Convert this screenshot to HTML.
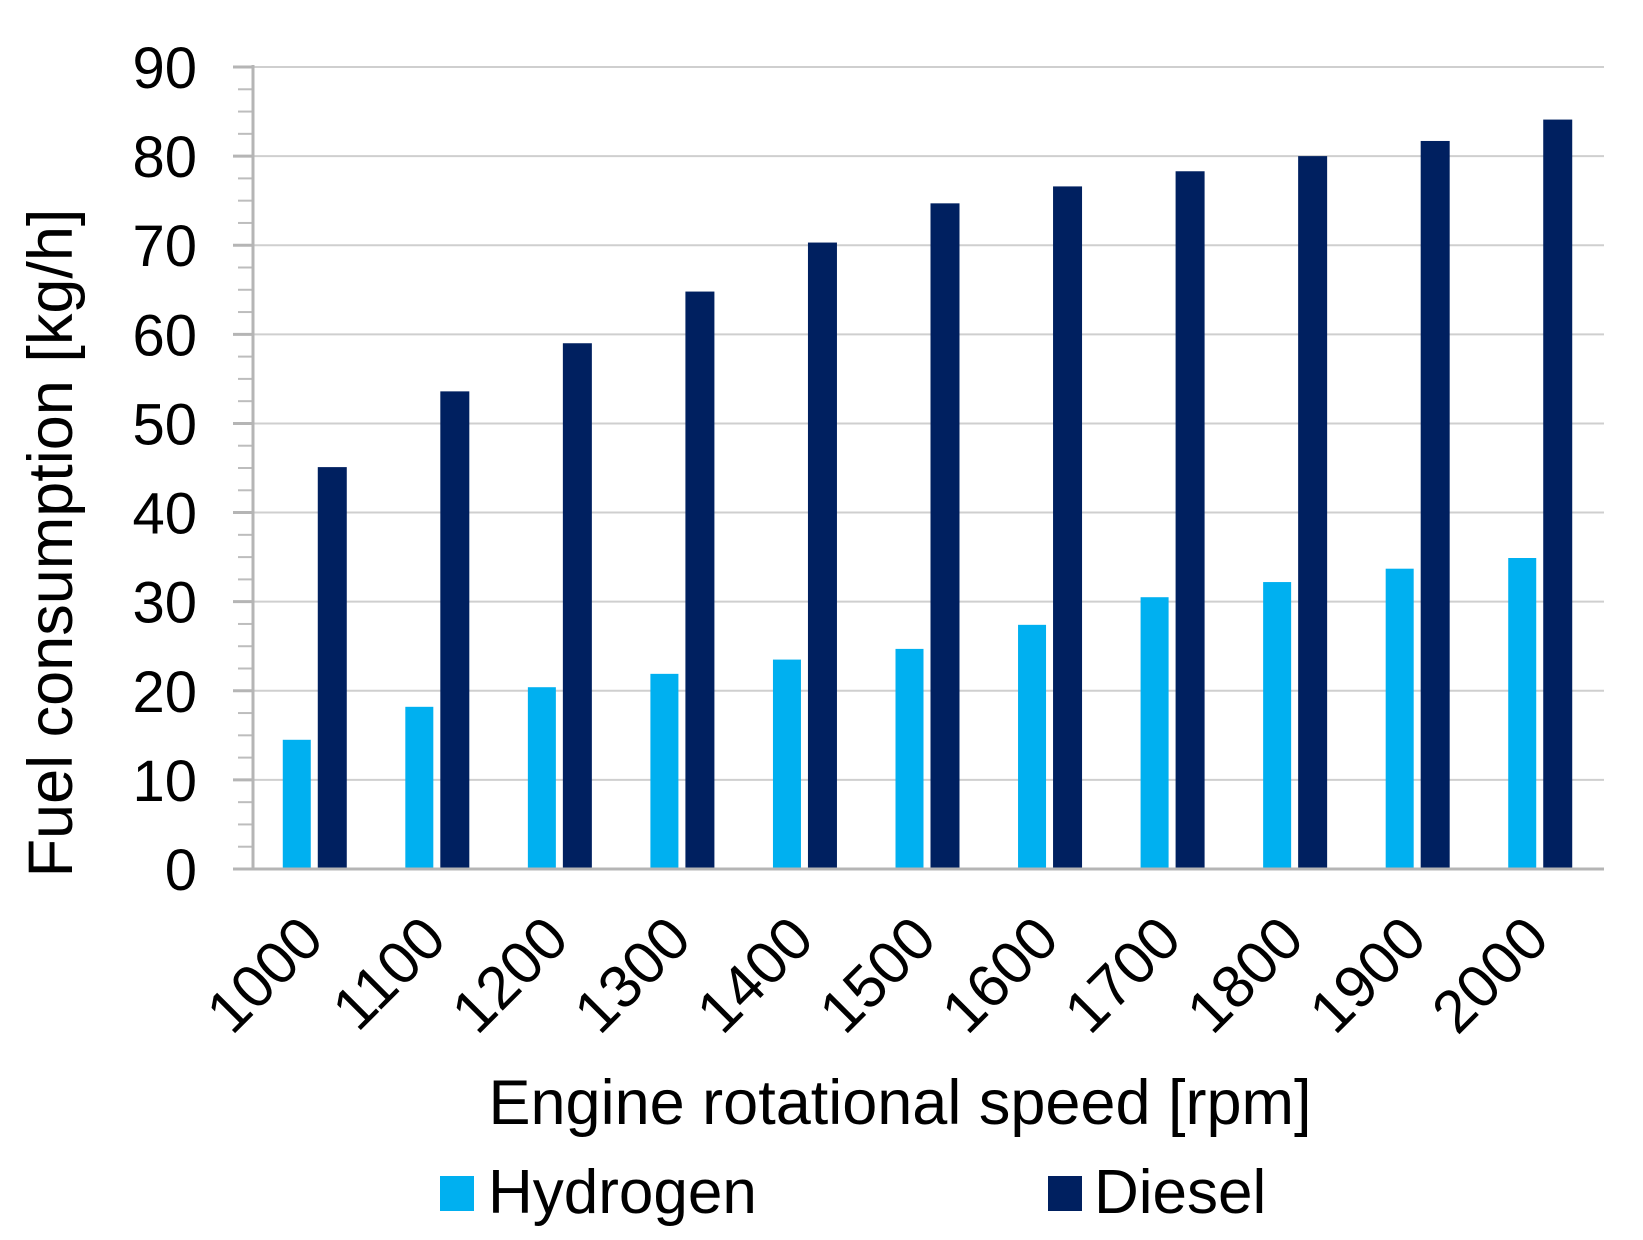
<!DOCTYPE html>
<html><head><meta charset="utf-8"><style>
html,body{margin:0;padding:0;background:#fff;}
svg{display:block;font-family:"Liberation Sans",Arial,sans-serif;}
</style></head><body>
<svg id="chart" width="1643" height="1240" viewBox="0 0 1643 1240">
<g id="grid"></g>
<g id="yaxis"></g>
<g id="bars"></g>
<g id="xaxis"></g>
<text transform="translate(72,543) rotate(-90)" text-anchor="middle" font-size="63" fill="#000">Fuel consumption [kg/h]</text>
<text x="900" y="1124" text-anchor="middle" font-size="63" fill="#000">Engine rotational speed [rpm]</text>
<g>
<rect x="440" y="1176" width="34" height="35" fill="#00b0f0"/>
<text x="488" y="1213" font-size="62" fill="#000">Hydrogen</text>
<rect x="1048" y="1176" width="34" height="35" fill="#002060"/>
<text x="1094" y="1213" font-size="62" fill="#000">Diesel</text>
</g>
</svg>
<script>
const categories = ["1000","1100","1200","1300","1400","1500","1600","1700","1800","1900","2000"];
const hydrogen = [14.5,18.2,20.4,21.9,23.5,24.7,27.4,30.5,32.2,33.7,34.9];
const diesel = [45.1,53.6,59.0,64.8,70.3,74.7,76.6,78.3,80.0,81.7,84.1];
const yTicks = [0,10,20,30,40,50,60,70,80,90];

const NS = "http://www.w3.org/2000/svg";
const x0 = 253, x1 = 1601, yBase = 869, yTop = 67, yMax = 90;
const step = (x1 - x0) / categories.length;
function yScale(v){ return yBase - (v / yMax) * (yBase - yTop); }
function xCenter(i){ return x0 + step * (i + 0.5); }
function mk(tag, attrs, parent){ const e = document.createElementNS(NS, tag); for (const k in attrs) e.setAttribute(k, attrs[k]); parent.appendChild(e); return e; }

const grid = document.getElementById('grid');
const yaxis = document.getElementById('yaxis');
yTicks.forEach(t => {
  const y = yScale(t);
  if (t > 0) {
    const g = mk('line', {x1:x0, x2:x1+3, y1:y, y2:y, stroke:'#cfcfcf', 'stroke-width':2}, grid);
    
    
  }
  const tk = mk('line', {x1:x0-20, x2:x0, y1:y, y2:y, stroke:'#b5b5b5', 'stroke-width':3}, yaxis);
  
  
  const lb = mk('text', {x:197, y:y+21, 'text-anchor':'end', 'font-size':58, fill:'#000'}, yaxis);
  lb.textContent = t;
  
  
});
for (let v = 2.5; v < yMax; v += 2.5) {
  if (v % 10 === 0) continue;
  const y = yScale(v);
  const m = mk('line', {x1:x0-15, x2:x0, y1:y, y2:y, stroke:'#bdbdbd', 'stroke-width':2}, yaxis);
  
  
}
const ax = mk('line', {x1:x0, x2:x0, y1:yTop-2, y2:yBase, stroke:'#b5b5b5', 'stroke-width':3}, yaxis);



const bars = document.getElementById('bars');
const bw = 28;
categories.forEach((c, i) => {
  const cx = xCenter(i);
  const h = mk('rect', {x:cx-31.5, y:yScale(hydrogen[i]), width:bw, height:yBase-yScale(hydrogen[i]), fill:'#00b0f0'}, bars);
  
  
  const d = mk('rect', {x:cx+3.5, y:yScale(diesel[i]), width:bw+1, height:yBase-yScale(diesel[i]), fill:'#002060'}, bars);
  
  
});

const xaxis = document.getElementById('xaxis');
const xl = mk('line', {x1:x0-20, x2:x1+3, y1:yBase, y2:yBase, stroke:'#b5b5b5', 'stroke-width':3}, xaxis);


categories.forEach((c, i) => {
  const cx = xCenter(i) + 12;
  const t = mk('text', {x:0, y:0, 'text-anchor':'end', 'font-size':60, fill:'#000', transform:'translate(' + cx + ',' + 942 + ') rotate(-45)'}, xaxis);
  t.textContent = c;
  
  
});
</script>
</body></html>
